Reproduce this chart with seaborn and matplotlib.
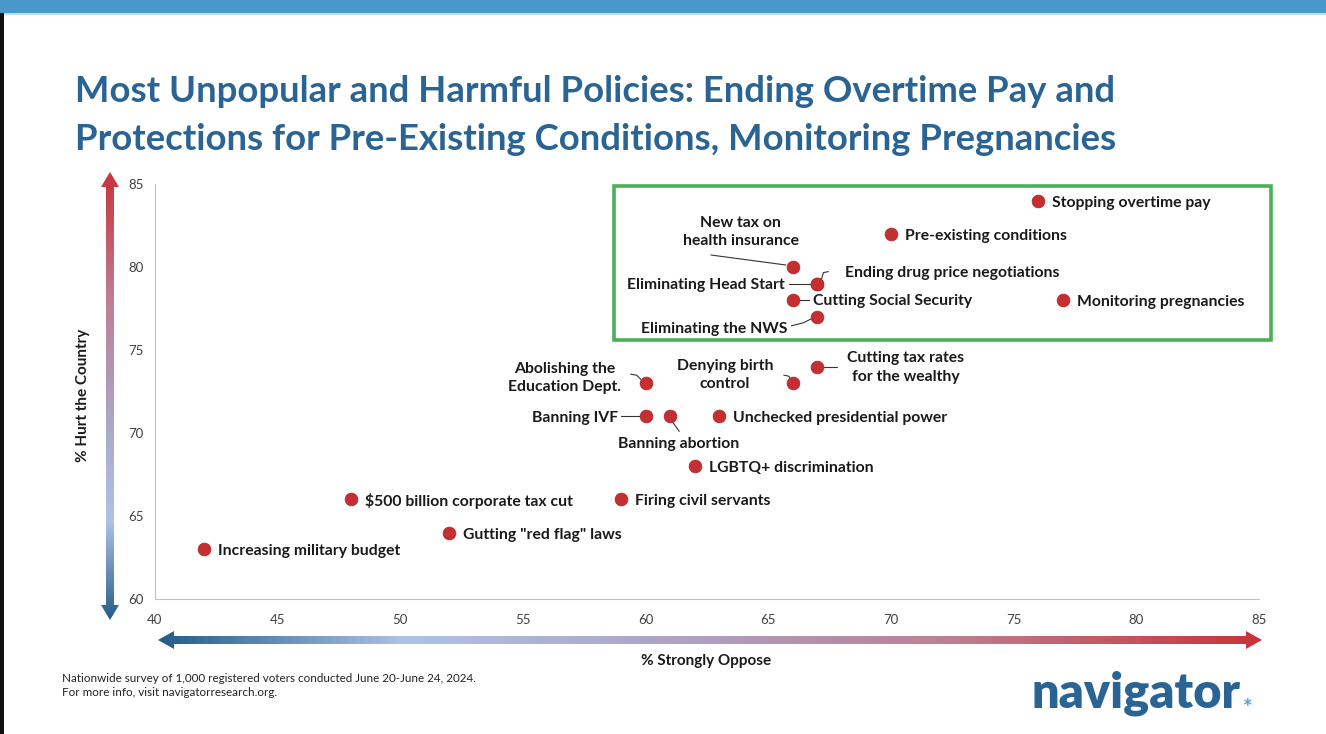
""" Scatter of policy opposition vs perceived harm (Navigator survey slide) """
import numpy as np
import pandas as pd
import matplotlib
matplotlib.use("Agg")
import matplotlib.pyplot as plt
import matplotlib.transforms as mtransforms
from matplotlib.colors import LinearSegmentedColormap
from matplotlib.patches import Polygon, Rectangle
import seaborn as sns

# data
policies = [
    "Increasing military budget",
    "$500 billion corporate tax cut",
    'Gutting "red flag" laws',
    "Firing civil servants",
    "LGBTQ+ discrimination",
    "Banning IVF",
    "Banning abortion",
    "Unchecked presidential power",
    "Abolishing the\nEducation Dept.",
    "Denying birth\ncontrol",
    "Cutting tax rates\nfor the wealthy",
    "Eliminating the NWS",
    "Cutting Social Security",
    "Eliminating Head Start",
    "Ending drug price negotiations",
    "New tax on\nhealth insurance",
    "Pre-existing conditions",
    "Stopping overtime pay",
    "Monitoring pregnancies",
]
strongly_oppose = [42, 48, 52, 59, 62, 60, 61, 63, 60, 66, 67, 67, 66, 67, 67, 66, 70, 76, 77]
hurt_country = [63, 66, 64, 66, 68, 71, 71, 71, 73, 73, 74, 77, 78, 79, 79, 80, 82, 84, 78]

x_ticks = [40, 45, 50, 55, 60, 65, 70, 75, 80, 85]
y_ticks = [60, 65, 70, 75, 80, 85]

# label placement in pixels relative to the dot (dx, dy, ha, leader line vertices)
placement = {
    "Abolishing the\nEducation Dept.": (-81, 5, "center", [(-15, 9), (-9, 8), (-5, 4)]),
    "Denying birth\ncontrol": (-68, 8, "center", [(-9, 8), (-4, 7), (-2, 3)]),
    "Cutting tax rates\nfor the wealthy": (88, -1, "center", [(7, 0), (20, 0)]),
    "Banning IVF": (-28, -2, "right", [(-25, 0), (-6, 0)]),
    "Banning abortion": (8, -28, "center", [(2, -5), (9, -15)]),
    "Eliminating the NWS": (-30, -12, "right", [(-26, -9), (-14, -6), (-6, -2)]),
    "Cutting Social Security": (20, -1, "left", [(5, 0), (16, 0)]),
    "Eliminating Head Start": (-33, -1, "right", [(-28, 0), (-6, 0)]),
    "Ending drug price negotiations": (28, 11, "left", [(4, 4), (6, 11), (11, 12)]),
    "New tax on\nhealth insurance": (-52, 35, "center", [(-82, 12), (-7, 2)]),
}

W, H = 1326, 734
fig = plt.figure(figsize=(W / 100, H / 100), dpi=100)
sns.set_theme(style="white")
plt.rcParams['font.family'] = ['Lato', 'DejaVu Sans']

title_blue = "#2A6494"
label_col = "#1a1a1a"

# decoration layer in pixel coordinates
deco = fig.add_axes([0, 0, 1, 1])
deco.set_xlim(0, W)
deco.set_ylim(H, 0)
deco.axis("off")
deco.add_patch(Rectangle((0, 0), W, 13, color="#4A98C9", lw=0))
deco.add_patch(Rectangle((0, 13), W, 1.5, color="#BFDDEF", lw=0))
deco.add_patch(Rectangle((0, 13), 4, H, color="#111111", lw=0))

grad = LinearSegmentedColormap.from_list(
    "opp", [(0.0, "#245D8C"), (0.22, "#AFC2E6"), (0.45, "#ADA5C8"),
            (0.72, "#BE7E92"), (1.0, "#C8343A")])

# vertical arrow
vx, vt, vb = 110, 172, 620
vert = Polygon([(vx, vt), (vx + 9, vt + 15), (vx + 4, vt + 15), (vx + 4, vb - 15),
                (vx + 9, vb - 15), (vx, vb), (vx - 9, vb - 15), (vx - 4, vb - 15),
                (vx - 4, vt + 15), (vx - 9, vt + 15)], closed=True,
               facecolor="none", edgecolor="none")
deco.add_patch(vert)
vgrad = np.linspace(1, 0, 256).reshape(-1, 1)
im = deco.imshow(vgrad, cmap=grad, aspect="auto", extent=(vx - 10, vx + 10, vb, vt),
                 interpolation="bilinear")
im.set_clip_path(vert)

# horizontal arrow
hy, hl, hr = 640, 158, 1262
horiz = Polygon([(hl, hy), (hl + 16, hy - 9), (hl + 16, hy - 4), (hr - 16, hy - 4),
                 (hr - 16, hy - 9), (hr, hy), (hr - 16, hy + 9), (hr - 16, hy + 4),
                 (hl + 16, hy + 4), (hl + 16, hy + 9)], closed=True,
                facecolor="none", edgecolor="none")
deco.add_patch(horiz)
hgrad = np.linspace(0, 1, 256).reshape(1, -1)
im2 = deco.imshow(hgrad, cmap=grad, aspect="auto", extent=(hl, hr, hy + 10, hy - 10),
                  interpolation="bilinear")
im2.set_clip_path(horiz)
deco.set_xlim(0, W)
deco.set_ylim(H, 0)

# green highlight box
deco.add_patch(Rectangle((614, 186), 657, 154, facecolor="none",
                         edgecolor="#4DAF55", lw=2.6))

# main chart
ax = fig.add_axes([155 / W, 1 - 599 / H, (1259 - 155) / W, (599 - 184) / H])
ax.set_zorder(2)
ax.patch.set_alpha(0)
df = pd.DataFrame({"policy": policies, "oppose": strongly_oppose, "hurt": hurt_country})
sns.scatterplot(data=df, x="oppose", y="hurt", ax=ax, s=85, color="#C62F32",
                edgecolor="#B02528", linewidth=0.5, zorder=3)
ax.set_xlim(40, 85)
ax.set_ylim(60, 85)
ax.set_xticks(x_ticks)
ax.set_yticks(y_ticks)
ax.tick_params(axis="both", which="both", length=5, width=0.8, color="#BFBFBF",
               labelsize=9.5, labelcolor="#404040", direction="out")
ax.tick_params(axis="x", pad=6)
ax.tick_params(axis="y", pad=3)
for side in ["top", "right"]:
    ax.spines[side].set_visible(False)
for side in ["left", "bottom"]:
    ax.spines[side].set_color("#BFBFBF")
    ax.spines[side].set_linewidth(0.8)
ax.set_xlabel("")
ax.set_ylabel("")

for name, xv, yv in zip(policies, strongly_oppose, hurt_country):
    dx, dy, ha, leader = placement.get(name, (14, -2, "left", None))
    trans = mtransforms.Affine2D() + mtransforms.ScaledTranslation(xv, yv, ax.transData)
    ax.text(dx, dy, name, transform=trans, ha=ha, va="center", fontsize=11.3,
            fontweight="bold", color=label_col, linespacing=1.4, zorder=4)
    if leader:
        lx, ly = zip(*leader)
        ax.plot(lx, ly, transform=trans, color="#333333", lw=0.8, zorder=2,
                clip_on=False)

# axis titles
fig.text(83 / W, 1 - 395 / H, "% Hurt the Country", rotation=90, ha="center",
         va="center", fontsize=11, fontweight="bold", color=label_col)
fig.text(706 / W, 1 - 661 / H, "% Strongly Oppose", ha="center", va="center",
         fontsize=11, fontweight="bold", color=label_col)

# title
fig.text(75 / W, 1 - 92 / H, "Most Unpopular and Harmful Policies: Ending Overtime Pay and",
         ha="left", va="center", fontsize=26.3, fontweight="bold", color=title_blue)
fig.text(75 / W, 1 - 139 / H, "Protections for Pre-Existing Conditions, Monitoring Pregnancies",
         ha="left", va="center", fontsize=26.3, fontweight="bold", color=title_blue)

# footnote and logo
fig.text(62 / W, 1 - 679 / H,
         "Nationwide survey of 1,000 registered voters conducted June 20-June 24, 2024.",
         ha="left", va="center", fontsize=8.4, color="#222222")
fig.text(62 / W, 1 - 692 / H, "For more info, visit navigatorresearch.org.",
         ha="left", va="center", fontsize=8.4, color="#222222")
fig.text(1031 / W, 1 - 693 / H, "navigator", ha="left", va="center", fontsize=35,
         fontweight="heavy", color="#2A6494")
fig.text(1248 / W, 1 - 708 / H, "*", ha="center", va="center", fontsize=16,
         fontweight="bold", color="#4BA3DC")

fig.savefig("out.png", dpi=100)
